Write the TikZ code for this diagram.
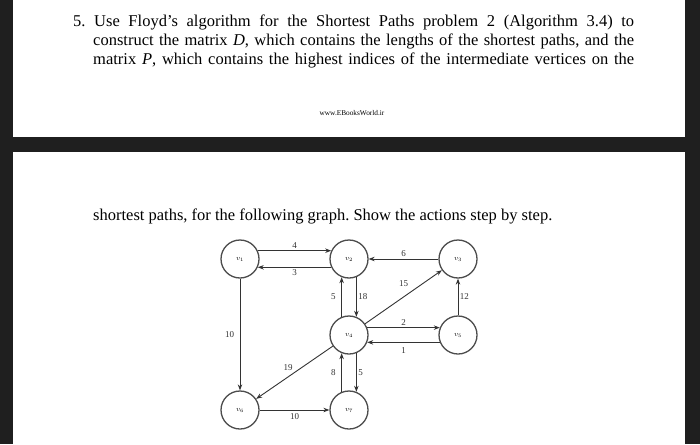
\documentclass[tikz,border=0pt]{standalone}
\usepackage{fontspec}
\setmainfont{Liberation Serif}
\usetikzlibrary{arrows.meta}
\frenchspacing

\begin{document}
\begin{tikzpicture}[x=1pt,y=-1pt,
  vertex/.style={circle,draw=black!70,line width=1.3pt,minimum size=38pt,inner sep=0pt,font=\fontsize{7.5}{8}\selectfont},
  arc/.style={draw=black!80,line width=0.9pt,-{Stealth[length=6pt,width=4.5pt]}},
  wt/.style={font=\fontsize{9}{10}\selectfont,text=black!80,inner sep=1.5pt},
  txt/.style={anchor=base west,inner sep=0pt,font=\fontsize{16.5}{18}\selectfont}]
\useasboundingbox (0,0) rectangle (700,444);

% screen and the two pages
\fill[black!88] (0,0) rectangle (700,444);
\fill[white] (13,0) rectangle (685,137);
\fill[white] (13,152) rectangle (685,444);

% question text
\node[txt] (l1) at (73,27) {\makebox[561pt][s]{5. Use Floyd’s algorithm for the Shortest Paths problem 2 (Algorithm 3.4) to}};
\node[txt] (l2) at (93,45.5) {\makebox[541pt][s]{construct the matrix \textit{D}, which contains the lengths of the shortest paths, and the}};
\node[txt] (l3) at (93,64) {\makebox[541pt][s]{matrix \textit{P}, which contains the highest indices of the intermediate vertices on the}};
\node[font=\fontsize{7.3}{8}\selectfont,inner sep=0pt,anchor=base] (wm) at (352,115) {www.EBooksWorld.ir};
\node[txt] (l4) at (93,220) {shortest paths, for the following graph. Show the actions step by step.};

% vertices
\node[vertex] (v1) at (240,259) {$v_1$};
\node[vertex] (v2) at (349,259) {$v_2$};
\node[vertex] (v3) at (458,259) {$v_3$};
\node[vertex] (v4) at (349,335) {$v_4$};
\node[vertex] (v5) at (458,335) {$v_5$};
\node[vertex] (v6) at (240,410) {$v_6$};
\node[vertex] (v7) at (349,410) {$v_7$};

% weighted arcs
\draw[arc] (v1.25) -- node[wt,above]{4} (v2.155);
\draw[arc] (v2.-155) -- node[wt,below]{3} (v1.-25);
\draw[arc] (v3) -- node[wt,above]{6} (v2);
\draw[arc] (v4.112) -- node[wt,left=4pt]{5} (v2.-112);
\draw[arc] (v2.-68) -- node[wt,right]{18} (v4.68);
\draw[arc] (v4) -- node[wt,above=8pt]{15} (v3);
\draw[arc] (v5) -- node[wt,right]{12} (v3);
\draw[arc] (v4.22) -- node[wt,above]{2} (v5.158);
\draw[arc] (v5.-158) -- node[wt,below=3pt]{1} (v4.-22);
\draw[arc] (v1) -- node[wt,left=4pt]{10} (v6);
\draw[arc] (v4) -- node[wt,above left]{19} (v6);
\draw[arc] (v7.112) -- node[wt,left=4pt]{8} (v4.-112);
\draw[arc] (v4.-68) -- node[wt,right]{5} (v7.68);
\draw[arc] (v6) -- node[wt,below=2pt]{10} (v7);
\end{tikzpicture}
\end{document}
